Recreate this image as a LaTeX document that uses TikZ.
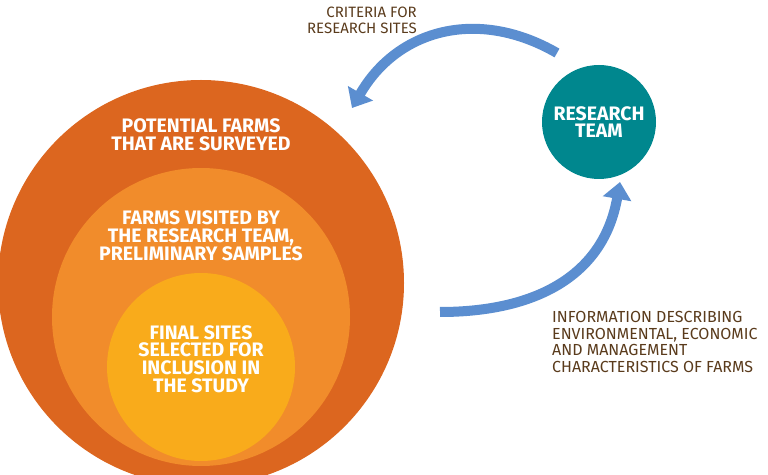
\documentclass[tikz,border=0pt]{standalone}
\usepackage{fontspec}
\setmainfont{Fira Sans}
\usetikzlibrary{arrows.meta}

\definecolor{potentialcol}{HTML}{DC661F}
\definecolor{visitedcol}{HTML}{F18C2B}
\definecolor{finalcol}{HTML}{F9AB1B}
\definecolor{teamcol}{HTML}{00878E}
\definecolor{flowcol}{HTML}{5B8ED0}
\definecolor{notecol}{HTML}{5A3B1C}

\tikzset{
    ring/.style={circle,inner sep=0pt,outer sep=0pt},
    ringtext/.style={align=center,text=white,inner sep=0pt,
        font=\bfseries\fontsize{19.5}{17.8}\selectfont},
    note/.style={text=notecol,inner sep=0pt,
        font=\fontsize{16}{16.8}\selectfont},
    flow/.style={draw=flowcol,line width=10pt,
        -{Triangle[width=28pt,length=17pt]}}
}

\begin{document}
\begin{tikzpicture}[x=1pt,y=1pt]

            %\draw [help lines] (0,0) grid (768,474);
            \useasboundingbox (0,0) rectangle (768,474);
            \clip (0,0) rectangle (768,474);

            \path   (201,191) node (potential) [ring,fill=potentialcol,minimum size=406pt] {}
                    (201,157) node (visited) [ring,fill=visitedcol,minimum size=298pt] {}
                    (201,107) node (final) [ring,fill=finalcol,minimum size=188pt] {}
                    (599,352) node (team) [ring,fill=teamcol,minimum size=114pt,ringtext] {RESEARCH\\TEAM};

            \path   (201,339) node (potentialtext) [ringtext] {POTENTIAL FARMS\\THAT ARE SURVEYED}
                    (201,238) node (visitedtext) [ringtext] {FARMS VISITED BY\\THE RESEARCH TEAM,\\PRELIMINARY SAMPLES}
                    (201,115) node (finaltext) [ringtext] {FINAL SITES\\SELECTED FOR\\INCLUSION IN\\THE STUDY};

            \path   (417,453.5) node (criteria) [note,anchor=east,align=right,font=\fontsize{15}{15.5}\selectfont] {CRITERIA FOR\\RESEARCH SITES}
                    (552,132) node (information) [note,anchor=west,align=left] {INFORMATION DESCRIBING\\ENVIRONMENTAL, ECONOMIC\\AND MANAGEMENT\\CHARACTERISTICS OF FARMS};

            \coordinate (criteriastart) at (557,421);
            \coordinate (criteriaend) at (352,366);
            \coordinate (informationstart) at (440,162);
            \coordinate (informationend) at (620,292);

            \draw[flow] (criteriastart) to[out=150,in=60,looseness=1.1] (criteriaend);
            \draw[flow] (informationstart) to[out=0,in=-100,looseness=1.1] (informationend);

        \end{tikzpicture}
\end{document}
